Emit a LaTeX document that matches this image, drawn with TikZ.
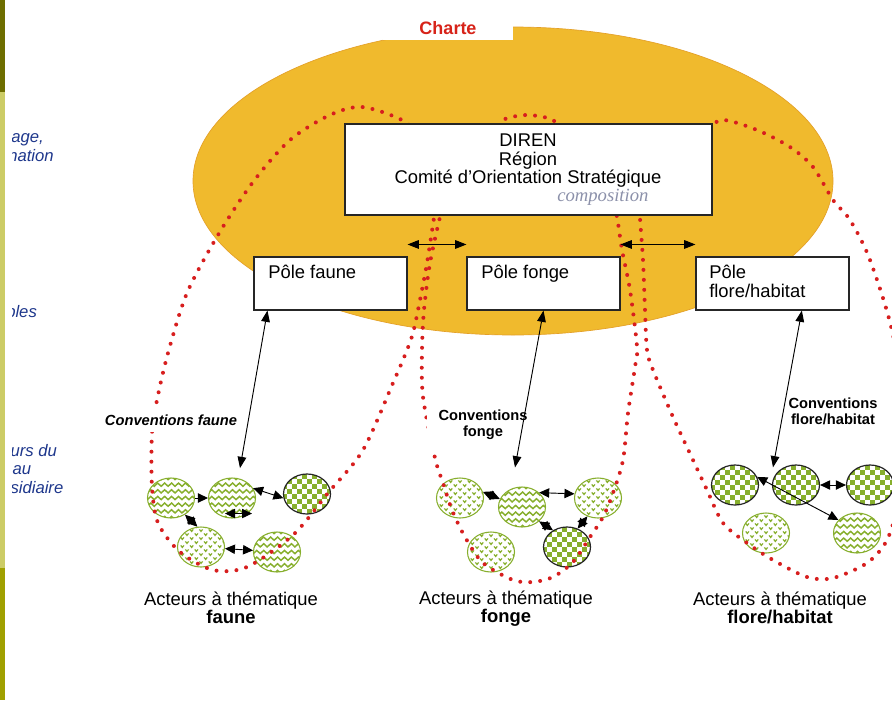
\documentclass[tikz,border=0pt]{standalone}
\usepackage{fontspec}
\setmainfont{Liberation Sans}
\newfontfamily\handfont{Liberation Serif}
\usetikzlibrary{shapes.geometric,arrows.meta,decorations.pathmorphing}
\definecolor{gold}{RGB}{240,186,45}
\definecolor{goldedge}{RGB}{228,160,40}
\definecolor{dotred}{RGB}{215,30,30}
\definecolor{leaf}{RGB}{135,175,45}
\definecolor{charteRed}{RGB}{215,35,25}
\definecolor{navy}{RGB}{30,55,140}
\definecolor{olivedark}{RGB}{110,110,0}
\definecolor{olivelight}{RGB}{204,204,102}
\definecolor{olivemid}{RGB}{160,160,0}
\definecolor{handgray}{RGB}{140,145,170}
\tikzset{
  pbox/.style={draw=black!85, fill=white, line width=0.8pt, inner sep=0pt},
  lbl/.style={inner sep=0pt, font=\fontsize{13.8pt}{14pt}\selectfont},
  conv/.style={fill=white, inner xsep=4pt, inner ysep=5pt, align=center,
    font=\fontsize{11pt}{12pt}\selectfont\bfseries},
  redots/.style={dotred, line width=3pt, line cap=round, dash pattern=on 0pt off 7.5pt},
  frag/.style={inner sep=0pt, anchor=base west, text=navy,
    font=\fontsize{12.5pt}{13pt}\selectfont\itshape},
  actor/.style={ellipse, minimum width=35.25pt, minimum height=30pt, inner sep=0pt, fill=white},
  wavy/.style={actor, draw=leaf, line width=0.8pt,
    path picture={\foreach \k in {-3,...,3}{\draw[leaf,line width=1.1pt,decorate,
      decoration={snake,amplitude=1.2pt,segment length=5.2pt}]
      ([shift={(-22pt,\k*5pt)}]path picture bounding box.center) -- ++(44pt,0pt);}}},
  checker/.style={actor, draw=black!85, line width=0.9pt,
    path picture={\foreach \i in {-5,-3,...,3}{\foreach \j in {-5,-3,...,3}{
      \fill[leaf] ([shift={(\i*3.8pt,\j*3.8pt)}]path picture bounding box.center) rectangle ++(3.8pt,3.8pt);
      \fill[leaf] ([shift={(\i*3.8pt+3.8pt,\j*3.8pt+3.8pt)}]path picture bounding box.center) rectangle ++(3.8pt,3.8pt);}}}},
  dotsc/.style={actor, draw=leaf, line width=0.8pt,
    path picture={\foreach \i in {-2,...,2}{\foreach \j in {-2,...,2}{
      \draw[leaf,line width=0.9pt] ([shift={(\i*7pt-1.2pt,\j*6pt+1.2pt)}]path picture bounding box.center) -- ++(1.2pt,-1.5pt) -- ++(1.2pt,1.5pt);
      \draw[leaf,line width=0.9pt] ([shift={(\i*7pt+2.3pt,\j*6pt+4.2pt)}]path picture bounding box.center) -- ++(1.2pt,-1.5pt) -- ++(1.2pt,1.5pt);}}}},
  sgl/.style={-{Triangle[length=7.5pt,width=7pt]}, line width=0.7pt},
  dbl/.style={{Triangle[length=7.5pt,width=7pt]}-{Triangle[length=7.5pt,width=7pt]}, line width=0.7pt},
  pdbl/.style={{Triangle[length=8.5pt,width=6.5pt]}-{Triangle[length=8.5pt,width=6.5pt]}, line width=0.7pt},
}
\begin{document}
\begin{tikzpicture}[x=0.75pt,y=-0.75pt]
\useasboundingbox (0,0) rectangle (892,700);
\fill[white] (0,0) rectangle (892,700);

% cut-off words at the left margin
\begin{scope}
\clip (12,0) rectangle (150,700);
\node[frag] (fr1) at (5.5,142) {rage,};
\node[frag] (fr2) at (8,161) {nation};
\node[frag] (fr3) at (6,317) {bles};
\node[frag] (fr4) at (1,456) {eurs du};
\node[frag] (fr5) at (3,474) {eau};
\node[frag] (fr6) at (1,493) {bsidiaire};
\end{scope}

% left stripe
\fill[olivedark] (0,0) rectangle (5,92);
\fill[olivelight] (0,92) rectangle (5,568);
\fill[olivemid] (0,568) rectangle (5,700);

% charter ellipse
\node[ellipse, fill=gold, draw=goldedge, line width=0.5pt, minimum width=480pt,
  minimum height=231pt, inner sep=0pt] (charter) at (513,181) {};
\node[fill=white, minimum width=97.5pt, minimum height=18pt, inner sep=0pt,
  text=charteRed, font=\fontsize{13.5pt}{14pt}\selectfont\bfseries] (charte) at (448,28) {Charte};

% actor circles
\node[wavy] (fA) at (171,498) {};
\node[wavy] (fB) at (232,498) {};
\node[checker] (fC) at (307,494) {};
\node[dotsc] (fD) at (201,547) {};
\node[wavy] (fE) at (277,552) {};
\node[dotsc] (gF) at (460,498) {};
\node[wavy] (gG) at (522,507) {};
\node[dotsc] (gH) at (598,498) {};
\node[dotsc] (gI) at (491,552) {};
\node[checker] (gJ) at (567,547) {};
\node[checker] (hK) at (735,485) {};
\node[checker] (hL) at (796,485) {};
\node[checker] (hM) at (870,485) {};
\node[dotsc] (hN) at (766,533) {};
\node[wavy] (hO) at (857,533) {};

% dotted loops
\draw[redots] plot[smooth] coordinates {(437,200) (434,218) (427,263) (420,300) (413,333) (405,355)
  (393,383) (363,450) (328,493) (293,535) (247,567) (213,570) (180,552) (158,523) (152,487)
  (152,433) (157,400) (168,353) (187,293) (218,235) (253,182) (290,140) (330,115) (362,107)
  (402,120) (425,140)};
\draw[redots] plot[smooth] coordinates {(445,200) (440,217) (430,263) (424,310) (422,350) (423,397)
  (435,458) (443,483) (452,510) (465,537) (483,563) (513,580) (533,582) (553,577) (573,562)
  (590,537) (603,517) (613,493) (623,460) (628,413) (635,367) (637,347) (630,290) (622,250)
  (617,217) (612,200)};
\draw[redots] plot[smooth] coordinates {(495,135) (503,120) (527,115) (553,120) (561,135)};
\draw[redots] plot[smooth] coordinates {(641,200) (640,217) (643,260) (645,310) (647,350) (653,370)
  (673,417) (693,460) (707,490) (723,523) (747,543) (773,560) (807,577) (833,578) (867,563)
  (887,540) (898,500) (902,420) (893,335) (870,260) (850,220) (833,200) (813,167) (790,147)
  (757,130) (723,120) (705,130)};

% convention labels
\node[conv, font=\fontsize{11pt}{12pt}\selectfont\bfseries\itshape] (cvfa) at (171,420) {Conventions faune};
\node[conv, inner xsep=9pt, inner ysep=8pt] (cvfo) at (483,425) {Conventions\\fonge};
\node[conv] (cvfl) at (833,411) {Conventions\\flore/habitat};

% boxes
\node[pbox, minimum width=275.25pt, minimum height=68.25pt] (diren) at (528.5,169.5) {};
\node[lbl, anchor=base] (d1) at (528,146) {DIREN};
\node[lbl, anchor=base] (d2) at (528,165) {Région};
\node[lbl, anchor=base] (d3) at (528,183) {Comité d’Orientation Stratégique};
\node[inner sep=0pt, anchor=base west, text=handgray,
  font=\handfont\fontsize{14pt}{14pt}\selectfont\itshape] (hand) at (557,201) {composition};

\node[pbox, minimum width=114.75pt, minimum height=39.75pt] (pfa) at (330.5,283.5) {};
\node[lbl, anchor=base west] (tfa) at (268,278) {Pôle faune};
\node[pbox, minimum width=114.75pt, minimum height=39.75pt] (pfo) at (543.5,283.5) {};
\node[lbl, anchor=base west] (tfo) at (481,278) {Pôle fonge};
\node[pbox, minimum width=114.75pt, minimum height=39.75pt] (pfl) at (772.5,283.5) {};
\node[lbl, anchor=base west] (tfl1) at (709,278) {Pôle};
\node[lbl, anchor=base west] (tfl2) at (709,297) {flore/habitat};

% actor labels
\node[lbl, align=center, font=\fontsize{13.8pt}{13.5pt}\selectfont] (afa) at (231,608) {Acteurs à thématique\\\textbf{faune}};
\node[lbl, align=center, font=\fontsize{13.8pt}{13.5pt}\selectfont] (afo) at (506,609) {Acteurs à thématique\\\textbf{fonge}};
\node[lbl, align=center, font=\fontsize{13.8pt}{13.5pt}\selectfont] (afl) at (780,608) {Acteurs à thématique\\\textbf{flore/habitat}};

% arrows between poles
\draw[pdbl] ([yshift=9pt]pfa.north east) -- ([yshift=9pt]pfo.north west);
\draw[pdbl] ([yshift=9pt]pfo.north east) -- ([yshift=9pt]pfl.north west);

% arrows between actors and poles
\draw[pdbl] ([xshift=6pt,yshift=7pt]fB.north) -- ([xshift=10.5pt]pfa.south west);
\draw[pdbl] ([xshift=-5.25pt,yshift=14.25pt]gG.north) -- (pfo.south);
\draw[pdbl] ([xshift=-17.25pt,yshift=-2.25pt]hL.north) -- ([xshift=22pt]pfl.south);

% arrows between actors
\draw[sgl] (fA) -- (fB);
\draw[dbl] (fB.25) -- (fC.190);
\draw[dbl] ([xshift=-5.25pt,yshift=3.75pt]fB.south) -- ([xshift=15pt,yshift=3.75pt]fB.south);
\draw[dbl] (fA.-50) -- (fD.100);
\draw[dbl] (fD) -- (fE);
\draw[dbl] (gF.15) -- (gG.160);
\draw[dbl] (gG.40) -- (gH.170);
\draw[dbl] (gG.-40) -- (gJ.130);
\draw[dbl] (gH.-120) -- (gJ.60);
\draw[dbl] (hL) -- (hM);
\draw[dbl] (hK.20) -- (hO.145);
\end{tikzpicture}
\end{document}
